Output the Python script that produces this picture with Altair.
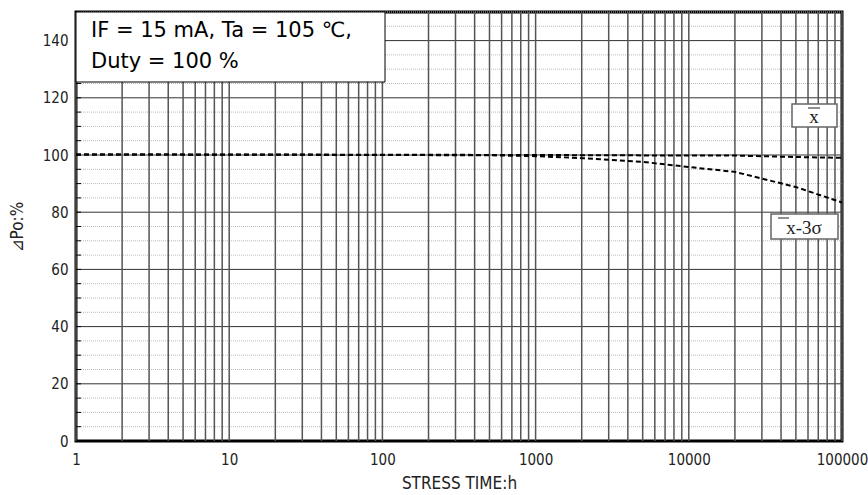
import altair as alt
import pandas as pd

# ---- data ----
mean_hours = [1, 10, 100, 1000, 10000, 20000, 50000, 100000]
mean_vals = [100.2, 100.2, 100.1, 100.0, 99.8, 99.8, 99.3, 99.0]
low_hours = [1, 10, 100, 500, 1000, 2000, 5000, 10000, 20000, 50000, 100000]
low_vals = [100.2, 100.1, 100.0, 99.9, 99.6, 98.9, 97.6, 95.8, 94.1, 88.8, 83.4]

x_ticks = [1, 10, 100, 1000, 10000, 100000]
y_ticks = [0, 20, 40, 60, 80, 100, 120, 140]
y_minor = [v for v in range(0, 151, 5)]
x_grid = [m * 10 ** k for k in range(5) for m in range(1, 10)] + [100000]

cond_line1 = "IF = 15 mA, Ta = 105 ℃,"
cond_line2 = "Duty = 100 %"

FONT = "DejaVu Sans Condensed"

lines_df = pd.DataFrame(
    {"h": mean_hours + low_hours,
     "v": mean_vals + low_vals,
     "s": ["mean"] * len(mean_hours) + ["low"] * len(low_hours)}
)

xs = alt.Scale(type="log", domain=[1, 100000], nice=False)
ys = alt.Scale(domain=[0, 150], nice=False)

ax_x = alt.Axis(values=x_ticks, format="d", title="STRESS TIME:h", grid=False,
                ticks=False, domain=False, labelPadding=11, titlePadding=8,
                labelFlush=False, labelOverlap=False, labelBound=False,
                labelFont=FONT, labelFontSize=15, titleFont=FONT, titleFontSize=17,
                titleFontWeight="normal", labelColor="#222", titleColor="#222")
ax_y = alt.Axis(values=y_ticks, title="⊿Po:%", grid=False, ticks=False, domain=False,
                labelFlush=False, labelOverlap=False,
                labelPadding=8, titlePadding=16, labelFont=FONT, labelFontSize=15,
                titleFont=FONT, titleFontSize=17, titleFontWeight="normal",
                labelColor="#222", titleColor="#222")

minor_df = pd.DataFrame({"v": [v for v in y_minor if v % 20 != 0]})
major_df = pd.DataFrame({"v": [v for v in y_minor if v % 20 == 0 and 0 < v < 150]})
vgrid_df = pd.DataFrame({"h": x_grid})
ticks_df = pd.DataFrame({"v": y_minor})

minor = alt.Chart(minor_df).mark_rule(color="#bbbbbb", strokeWidth=1, strokeDash=[1, 1]).encode(
    y=alt.Y("v:Q", scale=ys, axis=ax_y))
major = alt.Chart(major_df).mark_rule(color="#333333", strokeWidth=1).encode(
    y=alt.Y("v:Q", scale=ys, axis=ax_y))
vgrid = alt.Chart(vgrid_df).mark_rule(color="#555555", strokeWidth=1.5).encode(
    x=alt.X("h:Q", scale=xs, axis=ax_x))
yticks = alt.Chart(ticks_df).mark_rule(color="#000000", strokeWidth=1).encode(
    y=alt.Y("v:Q", scale=ys, axis=ax_y), x=alt.value(0), x2=alt.value(5))

lines = alt.Chart(lines_df).mark_line(color="black", strokeWidth=2, strokeDash=[5, 3], clip=True).encode(
    x=alt.X("h:Q", scale=xs, axis=ax_x),
    y=alt.Y("v:Q", scale=ys, axis=ax_y),
    detail="s:N",
)

cond_box = alt.Chart(pd.DataFrame({"a": [0]})).mark_rect(fill="white", stroke="black", strokeWidth=1).encode(
    x=alt.value(0), x2=alt.value(309), y=alt.value(0), y2=alt.value(70))
cond_text = alt.Chart(pd.DataFrame({"t": [cond_line1, cond_line2], "yy": [19, 50]})).mark_text(
    align="left", baseline="middle", font="DejaVu Sans", fontSize=21, color="black").encode(
    x=alt.value(15), y=alt.Y("yy:Q", scale=None), text="t:N")

box1 = alt.Chart(pd.DataFrame({"a": [0]})).mark_rect(fill="white", stroke="#666666", strokeWidth=1.5).encode(
    x=alt.value(716), x2=alt.value(761), y=alt.value(92), y2=alt.value(115))
txt1 = alt.Chart(pd.DataFrame({"t": ["x"]})).mark_text(
    font="Liberation Serif", fontSize=19, baseline="middle", align="center", color="#222").encode(
    x=alt.value(738), y=alt.value(105), text="t:N")
bar1 = alt.Chart(pd.DataFrame({"a": [0]})).mark_rule(color="#222", strokeWidth=1).encode(
    x=alt.value(732), x2=alt.value(744), y=alt.value(96))

box2 = alt.Chart(pd.DataFrame({"a": [0]})).mark_rect(fill="white", stroke="#666666", strokeWidth=1.5).encode(
    x=alt.value(695), x2=alt.value(762), y=alt.value(202), y2=alt.value(227))
txt2 = alt.Chart(pd.DataFrame({"t": ["x-3σ"]})).mark_text(
    font="Liberation Serif", fontSize=19, baseline="middle", align="center", color="#222").encode(
    x=alt.value(728), y=alt.value(216), text="t:N")
bar2 = alt.Chart(pd.DataFrame({"a": [0]})).mark_rule(color="#222", strokeWidth=1).encode(
    x=alt.value(702), x2=alt.value(713), y=alt.value(206))

chart = alt.layer(
    minor, major, vgrid, yticks, lines, cond_box, cond_text, box1, txt1, bar1, box2, txt2, bar2
).properties(
    width=766, height=429,
    autosize=alt.AutoSizeParams(type="none"),
    padding={"left": 76, "top": 12, "right": 26, "bottom": 54},
    background="white",
).configure_view(stroke="black", strokeWidth=3)

chart.save("out.html", embed_options={"renderer": "svg", "actions": False})
